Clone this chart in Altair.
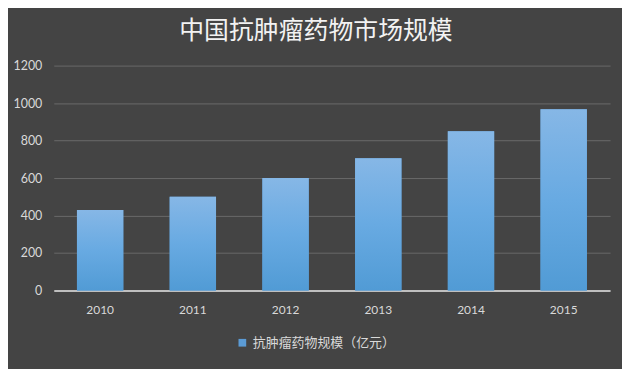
import altair as alt
import pandas as pd

years = ["2010", "2011", "2012", "2013", "2014", "2015"]
values = [430, 500, 600, 705, 850, 967]
series_name = "抗肿瘤药物规模（亿元）"
title_text = "中国抗肿瘤药物市场规模"
y_ticks = [0, 200, 400, 600, 800, 1000, 1200]

df = pd.DataFrame({"year": years, "value": values, "series": [series_name] * len(years)})

x_enc = alt.X("year:N", title=None, sort=years,
              scale=alt.Scale(paddingInner=0.5, paddingOuter=0.25),
              axis=alt.Axis(labelAngle=0, labelColor="#d9d9d9", labelFontSize=12,
                            labelFont="Lato", labelPadding=14, ticks=False,
                            domainColor="#bfbfbf", domainWidth=2, grid=False))
y_enc = alt.Y("value:Q", title=None,
              scale=alt.Scale(domain=[0, 1200], nice=False),
              axis=alt.Axis(values=y_ticks, format="d", labelOverlap=False,
                            labelColor="#d9d9d9", labelFontSize=12.5,
                            labelFont="Lato", labelPadding=12, ticks=False, domain=False,
                            gridColor="#6a6a6a", gridWidth=1))

base = alt.Chart(df).encode(x=x_enc, y=y_enc)

base_bars = base.mark_bar().encode(
    color=alt.Color("series:N", scale=alt.Scale(range=["#5b9bd5"]),
                    legend=alt.Legend(title=None, orient="none", legendX=183, legendY=272,
                                      symbolType="square",
                                      symbolSize=60, labelColor="#d9d9d9", labelFontSize=13,
                                      labelFont="Noto Sans CJK SC",
                                      symbolStrokeWidth=0, labelLimit=400)),
)

gradient = alt.LinearGradient(
    gradient="linear",
    stops=[alt.GradientStop(color="#86b7e6", offset=0),
           alt.GradientStop(color="#68aae2", offset=0.5),
           alt.GradientStop(color="#519bd5", offset=1)],
    x1=0, x2=0, y1=0, y2=1,
)

grad_bars = base.mark_bar(fill=gradient)

chart = alt.layer(base_bars, grad_bars).properties(
    width=559, height=226,
    background="#444444",
    padding={"left": 5, "top": 10, "right": 12, "bottom": 18},
    title=alt.TitleParams(title_text, font="Noto Sans CJK SC", fontSize=25,
                          fontWeight="normal", color="#f2f2f2", anchor="middle",
                          offset=16, dx=-16),
).configure_view(stroke=None)

chart.save("out.html", embed_options={"renderer": "svg", "actions": False})
